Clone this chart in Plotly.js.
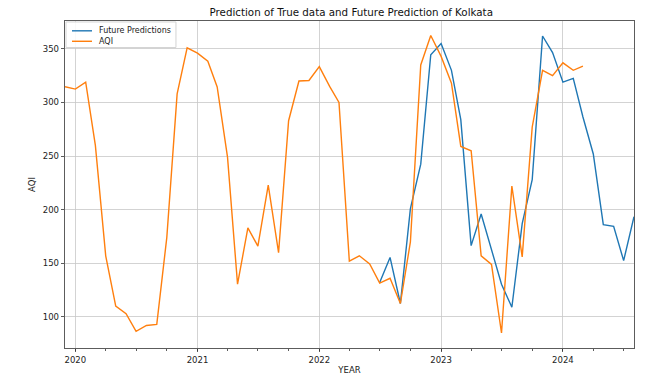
<!DOCTYPE html>
<html>
<head>
<meta charset="utf-8">
<script src="https://cdn.plot.ly/plotly-3.0.1.min.js"></script>
<style>html,body{margin:0;padding:0;background:#fff;}#chart{width:664px;height:375px;}</style>
</head>
<body>
<div id="chart"></div>
<script>
const aqiDates = [
  '2019-12-01',
  '2020-01-01','2020-02-01','2020-03-01','2020-04-01','2020-05-01','2020-06-01',
  '2020-07-01','2020-08-01','2020-09-01','2020-10-01','2020-11-01','2020-12-01',
  '2021-01-01','2021-02-01','2021-03-01','2021-04-01','2021-05-01','2021-06-01',
  '2021-07-01','2021-08-01','2021-09-01','2021-10-01','2021-11-01','2021-12-01',
  '2022-01-01','2022-02-01','2022-03-01','2022-04-01','2022-05-01','2022-06-01',
  '2022-07-01','2022-08-01','2022-09-01','2022-10-01','2022-11-01','2022-12-01',
  '2023-01-01','2023-02-01','2023-03-01','2023-04-01','2023-05-01','2023-06-01',
  '2023-07-01','2023-08-01','2023-09-01','2023-10-01','2023-11-01','2023-12-01',
  '2024-01-01','2024-02-01','2024-03-01'
];
const aqiValues = [
  314.7,
  312.5, 319, 260, 157, 110, 103,
  86.5, 92, 93, 174, 308, 351,
  346, 338.5, 314.5, 249, 130.5, 183,
  166, 223, 160, 283, 320, 320.5,
  333.5, 315, 300, 152, 157, 149.5,
  131.5, 136, 112.5, 170, 335, 362.5,
  343, 318, 259, 255, 157, 149,
  85, 222, 156, 277, 330, 325,
  337, 330, 334
];
const predDates = [
  '2022-07-01','2022-08-01','2022-09-01','2022-10-01','2022-11-01','2022-12-01',
  '2023-01-01','2023-02-01','2023-03-01','2023-04-01','2023-05-01','2023-06-01',
  '2023-07-01','2023-08-01','2023-09-01','2023-10-01','2023-11-01','2023-12-01',
  '2024-01-01','2024-02-01','2024-03-01','2024-04-01','2024-05-01','2024-06-01',
  '2024-07-01','2024-08-01'
];
const predValues = [
  132, 155.5, 112.5, 201, 242.5, 344.5,
  355, 330, 284, 166.5, 196, 163.5,
  130.5, 109, 187, 228, 362, 346.5,
  319, 322.5, 286.5, 252, 186, 184.5,
  152.5, 193.5
];
const seriesNames = ['Future Predictions', 'AQI'];
const seriesColors = ['#1f77b4', '#ff7f0e'];
const yTicks = [100, 150, 200, 250, 300, 350];
const xTickVals = ['2020-01-01','2021-01-01','2022-01-01','2023-01-01','2024-01-01'];
const xTickText = ['2020','2021','2022','2023','2024'];

const FONT = 'DejaVu Sans, sans-serif';
const traces = [
  {x: predDates, y: predValues, type: 'scatter', mode: 'lines', name: seriesNames[0],
   line: {color: seriesColors[0], width: 1.4}},
  {x: aqiDates, y: aqiValues, type: 'scatter', mode: 'lines', name: seriesNames[1],
   line: {color: seriesColors[1], width: 1.4}}
];

// compact matplotlib-style legend (box, line samples, labels) in paper coords
const legRows = [0.970, 0.938];
const shapes = [
  {type: 'rect', xref: 'paper', yref: 'paper', x0: 0.0018, x1: 0.195, y0: 0.919, y1: 0.997,
   line: {color: '#d4d4d4', width: 1}, fillcolor: 'rgba(255,255,255,0.85)', layer: 'above'}
];
const annotations = [];
seriesNames.forEach((n, i) => {
  shapes.push({type: 'line', xref: 'paper', yref: 'paper', x0: 0.0123, x1: 0.0475,
               y0: legRows[i], y1: legRows[i], line: {color: seriesColors[i], width: 1.4}, layer: 'above'});
  annotations.push({xref: 'paper', yref: 'paper', x: 0.0562, y: legRows[i], xanchor: 'left', yanchor: 'middle',
                    text: n, showarrow: false, font: {family: FONT, size: 8, color: '#222'}});
});

const layout = {
  width: 664, height: 375,
  margin: {l: 65, r: 30, t: 21, b: 27},
  paper_bgcolor: '#fff', plot_bgcolor: '#fff',
  font: {family: FONT, color: '#222', size: 8.5},
  title: {text: 'Prediction of True data and Future Prediction of Kolkata',
          font: {family: FONT, size: 10.3, color: '#111'},
          x: 0.529, xanchor: 'center', y: 0.968, yanchor: 'middle'},
  xaxis: {
    type: 'date', range: ['2019-12-01', '2024-08-01'],
    tickmode: 'array', tickvals: xTickVals, ticktext: xTickText,
    ticks: 'outside', ticklen: 3.5, tickcolor: '#333', tickwidth: 0.8,
    showgrid: true, gridcolor: '#c8c8c8', gridwidth: 0.8,
    showline: true, linecolor: '#333', linewidth: 0.8, mirror: true,
    zeroline: false, tickfont: {size: 8.5, color: '#222'},
    minor: {dtick: 'M3', tick0: '2020-01-01', ticks: 'outside', ticklen: 2, tickcolor: '#333', showgrid: false},
    title: {text: 'YEAR', font: {size: 8.5, color: '#222'}, standoff: 3}
  },
  yaxis: {
    range: [71, 376],
    tickmode: 'array', tickvals: yTicks,
    ticks: 'outside', ticklen: 3.5, tickcolor: '#333', tickwidth: 0.8,
    showgrid: true, gridcolor: '#c8c8c8', gridwidth: 0.8,
    showline: true, linecolor: '#333', linewidth: 0.8, mirror: true,
    zeroline: false, tickfont: {size: 8.5, color: '#222'},
    title: {text: 'AQI', font: {size: 8.5, color: '#222'}, standoff: 5}
  },
  showlegend: false,
  shapes: shapes,
  annotations: annotations
};
Plotly.newPlot('chart', traces, layout, {displayModeBar: false, staticPlot: true});
</script>
</body>
</html>
